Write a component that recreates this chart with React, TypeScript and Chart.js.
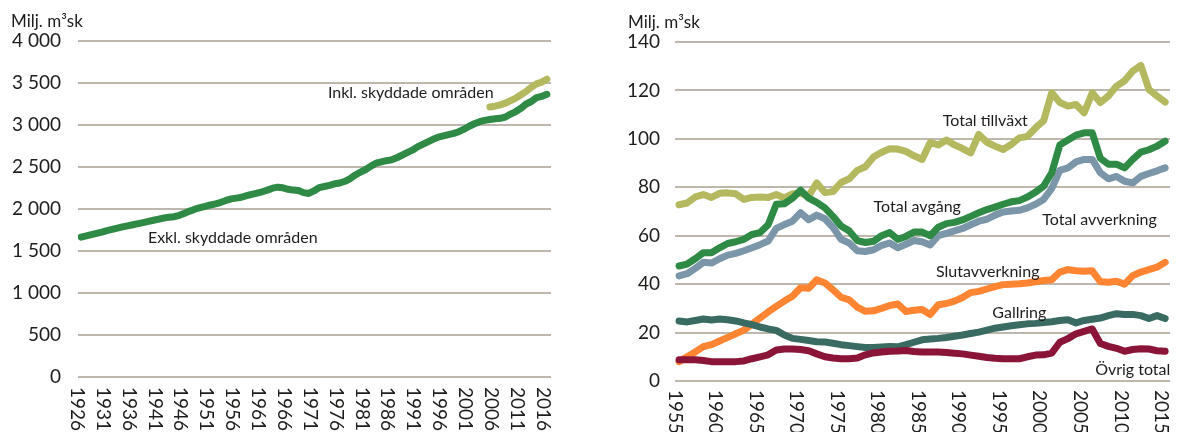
import { useEffect, useRef } from 'react';
import { Chart, registerables } from 'chart.js';

Chart.register(...registerables);

const FONT = 'Lato, "Noto Sans", "DejaVu Sans", sans-serif';
const TEXT = '#1d1d1b';
const GRID = '#bdb7ae';
const GREEN = '#2f8a45';
const OLIVE = '#b4b95f';
const BLUE = '#7b95a9';
const ORANGE = '#ff8533';
const TEAL = '#3a6b63';
const MAROON = '#8a1538';

// ---------- Left chart: virkesförråd (Milj. m³sk) ----------
const leftStartYear = 1926;
const exklValues = [
  1665, 1680, 1695, 1710, 1725,
  1742, 1757, 1772, 1787, 1800,
  1812, 1825, 1838, 1852, 1866,
  1880, 1893, 1903, 1908, 1925,
  1950, 1975, 1998, 2015, 2032,
  2048, 2062, 2080, 2102, 2120,
  2130, 2140, 2158, 2175, 2190,
  2205, 2225, 2248, 2260, 2252,
  2235, 2225, 2220, 2195, 2185,
  2215, 2255, 2268, 2282, 2300,
  2310, 2330, 2362, 2405, 2440,
  2470, 2510, 2545, 2560, 2575,
  2585, 2610, 2640, 2670, 2700,
  2740, 2770, 2800, 2830, 2855,
  2870, 2885, 2900, 2920, 2950,
  2985, 3015, 3040, 3055, 3065,
  3075, 3080, 3095, 3130, 3160,
  3200, 3250, 3280, 3325, 3340,
  3365,
];
const inklStartYear = 2005;
const inklValues = [3215, 3225, 3240, 3260, 3290, 3320, 3360, 3400, 3450, 3490, 3510, 3545];
const leftTickYears = [1926, 1931, 1936, 1941, 1946, 1951, 1956, 1961, 1966, 1971, 1976, 1981, 1986, 1991, 1996, 2001, 2006, 2011, 2016];

// ---------- Right chart: tillväxt och avgång (Milj. m³sk) ----------
const rightStartYear = 1955;
const tillvaxtValues = [
  72.8, 73.5, 76, 77, 75.8,
  77.5, 77.7, 77.3, 75, 75.8,
  76, 75.8, 77, 75.6, 77.3,
  77.5, 76.5, 81.8, 77.8, 78.2,
  82, 83.5, 87, 88.5, 92.5,
  94.5, 95.9, 95.8, 94.8, 93,
  91.5, 98.5, 97.5, 99.5, 97.5,
  96, 94.2, 101.8, 98.6, 97,
  95.6, 97.7, 100.4, 101, 104.5,
  107.5, 119, 115, 113.5, 114.2,
  110.8, 119, 115, 117.7, 121.8,
  124, 128, 130.3, 120.4, 117.7,
  115.2,
];
const avgangValues = [
  47.5, 48.3, 50.5, 53, 53,
  55, 56.8, 57.5, 58.5, 60.5,
  61.3, 64.5, 73, 73.2, 75.5,
  78.8, 75.5, 73.8, 71.5, 68,
  64, 62, 58, 57.2, 57.7,
  60, 61.3, 58.5, 59.7, 61.5,
  61.5, 60, 63.5, 65, 65.5,
  66.5, 68, 69.5, 70.8, 71.8,
  73, 74, 74.5, 76, 78,
  80.5, 86, 97.5, 99.5, 101.5,
  102.5, 102.5, 92, 89.5, 89.5,
  88, 91.5, 94.5, 95.5, 97,
  99,
];
const avverkningValues = [
  43.4, 44.3, 46.5, 49, 48.7,
  50.5, 52, 52.7, 53.8, 55,
  56.3, 57.8, 63, 64.6, 66,
  69.5, 66.6, 68.5, 67, 63.5,
  58.5, 57, 53.8, 53.5, 54.2,
  56, 57, 55, 56.5, 58,
  57.5, 56.2, 60, 61, 62,
  63, 64.5, 66, 66.8, 68.5,
  69.8, 70.2, 70.5, 71.5, 73,
  75, 79.5, 87, 88, 90.5,
  91.5, 91.5, 86, 83.5, 84.5,
  82.5, 81.8, 84.5, 85.7, 86.8,
  88,
];
const slutavverkningValues = [
  8, 10, 12, 14.2, 15,
  16.5, 18, 19.5, 21, 23.5,
  26, 28.5, 30.8, 33, 35,
  38.5, 38.3, 41.8, 40.5, 37.7,
  34.6, 33.5, 30.5, 28.8, 29,
  30, 31.2, 31.8, 28.7, 29.2,
  29.5, 27.5, 31.5, 32, 33,
  34.5, 36.5, 37, 38, 39,
  39.8, 40, 40.2, 40.5, 41,
  41.5, 41.8, 45, 46, 45.5,
  45.3, 45.5, 41, 40.8, 41.2,
  40, 43.5, 45, 46, 47,
  49,
];
const gallringValues = [
  24.8, 24.4, 25, 25.6, 25.2,
  25.6, 25.3, 24.8, 24, 23.3,
  22.3, 21.5, 20.9, 19, 17.6,
  17.2, 16.7, 16.2, 16.1, 15.6,
  15, 14.6, 14.2, 13.8, 13.8,
  14, 14.2, 14.1, 15, 16,
  17, 17.3, 17.6, 18, 18.5,
  19, 19.6, 20.2, 21, 21.8,
  22.3, 22.8, 23.2, 23.6, 23.8,
  24.2, 24.5, 25, 25.3, 24,
  25, 25.5, 26, 27, 27.8,
  27.5, 27.5, 27, 25.8, 27,
  25.8,
];
const ovrigValues = [
  8.8, 8.8, 8.8, 8.5, 8,
  7.9, 7.9, 8, 8.3, 9.2,
  10, 10.8, 12.8, 13.2, 13.2,
  13, 12.5, 11.2, 10, 9.5,
  9.2, 9.2, 9.5, 10.8, 11.6,
  12, 12.3, 12.4, 12.6, 12.2,
  12, 12, 12, 11.8, 11.5,
  11.2, 10.7, 10.2, 9.7, 9.4,
  9.2, 9.2, 9.2, 10, 10.7,
  10.8, 11.5, 16, 17.5, 19.5,
  20.5, 21.5, 15.5, 14.3, 13.5,
  12.3, 13, 13.3, 13.2, 12.5,
  12.3,
];
const rightTickYears = [1955, 1960, 1965, 1970, 1975, 1980, 1985, 1990, 1995, 2000, 2005, 2010, 2015];

const UNIT = 'Milj. m³sk';

const leftNotes = [
  { text: 'Inkl. skyddade områden', year: 1989.7, value: 3380 },
  { text: 'Exkl. skyddade områden', year: 1955.3, value: 1660 },
];
const rightNotes = [
  { text: 'Total tillväxt', year: 1992.8, value: 107.4 },
  { text: 'Total avgång', year: 1984.4, value: 71.8 },
  { text: 'Total avverkning', year: 2006.9, value: 66.4 },
  { text: 'Slutavverkning', year: 1993.1, value: 45.1 },
  { text: 'Gallring', year: 1997.0, value: 28.2 },
  { text: 'Övrig total', year: 2011.0, value: 4.6 },
];

const toPoints = (start: number, values: number[]) => values.map((v, i) => ({ x: start + i, y: v }));

const spaced = (v: number) => {
  if (v < 1000) return String(v);
  const th = Math.floor(v / 1000);
  const rest = String(v % 1000).padStart(3, '0');
  return `${th} ${rest}`;
};

const decorPlugin = {
  id: 'decor',
  afterDraw(chart: any, _args: any, opts: any) {
    const { ctx, chartArea, scales } = chart;
    const xs = scales.x;
    const ys = scales.y;
    ctx.save();
    ctx.fillStyle = TEXT;
    // unit label above the y axis
    ctx.font = `17px ${FONT}`;
    ctx.textAlign = 'left';
    ctx.textBaseline = 'middle';
    ctx.fillText(opts.unit, opts.unitX, opts.unitY);
    // rotated year labels (reading top to bottom)
    ctx.font = `19px ${FONT}`;
    for (const yr of opts.ticks) {
      const px = xs.getPixelForValue(yr) + opts.tickShift;
      ctx.save();
      ctx.translate(px, chartArea.bottom + opts.tickGap);
      ctx.rotate(Math.PI / 2);
      ctx.textAlign = 'left';
      ctx.textBaseline = 'middle';
      ctx.fillText(String(yr), 0, 0);
      ctx.restore();
    }
    // series labels
    ctx.font = `16px ${FONT}`;
    ctx.textAlign = 'center';
    ctx.textBaseline = 'middle';
    for (const n of opts.notes) {
      ctx.fillText(n.text, xs.getPixelForValue(n.year), ys.getPixelForValue(n.value));
    }
    ctx.restore();
  },
};

const lineDs = (label: string, data: any[], color: string) => ({
  label,
  data,
  borderColor: color,
  backgroundColor: color,
  borderWidth: 7,
  pointRadius: 0,
  tension: 0,
  fill: false,
  borderCapStyle: 'round' as const,
  borderJoinStyle: 'round' as const,
});

function makeOptions(cfg: any) {
  return {
    responsive: false,
    animation: false,
    layout: { padding: cfg.padding },
    plugins: {
      legend: { display: false },
      tooltip: { enabled: false },
      decor: cfg.decor,
    },
    scales: {
      x: { type: 'linear', display: false, min: cfg.xMin, max: cfg.xMax },
      y: {
        min: 0,
        max: cfg.yMax,
        ticks: {
          stepSize: cfg.yStep,
          padding: cfg.tickPad,
          color: TEXT,
          font: { family: FONT, size: 19 },
          callback: (v: number) => spaced(v),
        },
        grid: { color: GRID, lineWidth: 2, drawTicks: false },
        border: { display: false },
        afterFit: (s: any) => {
          s.width = cfg.axisWidth;
        },
      },
    },
  };
}

function LeftChart() {
  const ref = useRef<HTMLCanvasElement | null>(null);
  useEffect(() => {
    if (!ref.current) return;
    const chart = new Chart(ref.current, {
      type: 'line',
      data: {
        datasets: [
          lineDs('Inkl. skyddade områden', toPoints(inklStartYear, inklValues), OLIVE),
          lineDs('Exkl. skyddade områden', toPoints(leftStartYear, exklValues), GREEN),
        ],
      },
      options: makeOptions({
        padding: { top: 41, right: 39, bottom: 55, left: 0 },
        xMin: 1925.4,
        xMax: 2016.8,
        yMax: 4000,
        yStep: 500,
        tickPad: 17,
        axisWidth: 78,
        decor: { unit: UNIT, unitX: 11, unitY: 22, ticks: leftTickYears, tickShift: -4, tickGap: 10, notes: leftNotes },
      }) as any,
      plugins: [decorPlugin as any],
    });
    return () => chart.destroy();
  }, []);
  return <canvas ref={ref} width={590} height={432} style={{ display: 'block' }} />;
}

function RightChart() {
  const ref = useRef<HTMLCanvasElement | null>(null);
  useEffect(() => {
    if (!ref.current) return;
    const chart = new Chart(ref.current, {
      type: 'line',
      data: {
        datasets: [
          lineDs('Övrig total', toPoints(rightStartYear, ovrigValues), MAROON),
          lineDs('Gallring', toPoints(rightStartYear, gallringValues), TEAL),
          lineDs('Slutavverkning', toPoints(rightStartYear, slutavverkningValues), ORANGE),
          lineDs('Total avgång', toPoints(rightStartYear, avgangValues), GREEN),
          lineDs('Total avverkning', toPoints(rightStartYear, avverkningValues), BLUE),
          lineDs('Total tillväxt', toPoints(rightStartYear, tillvaxtValues), OLIVE),
        ],
      },
      options: makeOptions({
        padding: { top: 42, right: 10, bottom: 51, left: 0 },
        xMin: 1954.5,
        xMax: 2015.6,
        yMax: 140,
        yStep: 20,
        tickPad: 15,
        axisWidth: 85,
        decor: { unit: UNIT, unitX: 38, unitY: 23, ticks: rightTickYears, tickShift: -4, tickGap: 9, notes: rightNotes },
      }) as any,
      plugins: [decorPlugin as any],
    });
    return () => chart.destroy();
  }, []);
  return <canvas ref={ref} width={590} height={432} style={{ display: 'block' }} />;
}

export default function App() {
  return (
    <div
      style={{
        position: 'fixed',
        left: 0,
        top: 0,
        width: 1180,
        height: 432,
        background: '#ffffff',
        display: 'flex',
        overflow: 'hidden',
      }}
    >
      <LeftChart />
      <RightChart />
    </div>
  );
}
